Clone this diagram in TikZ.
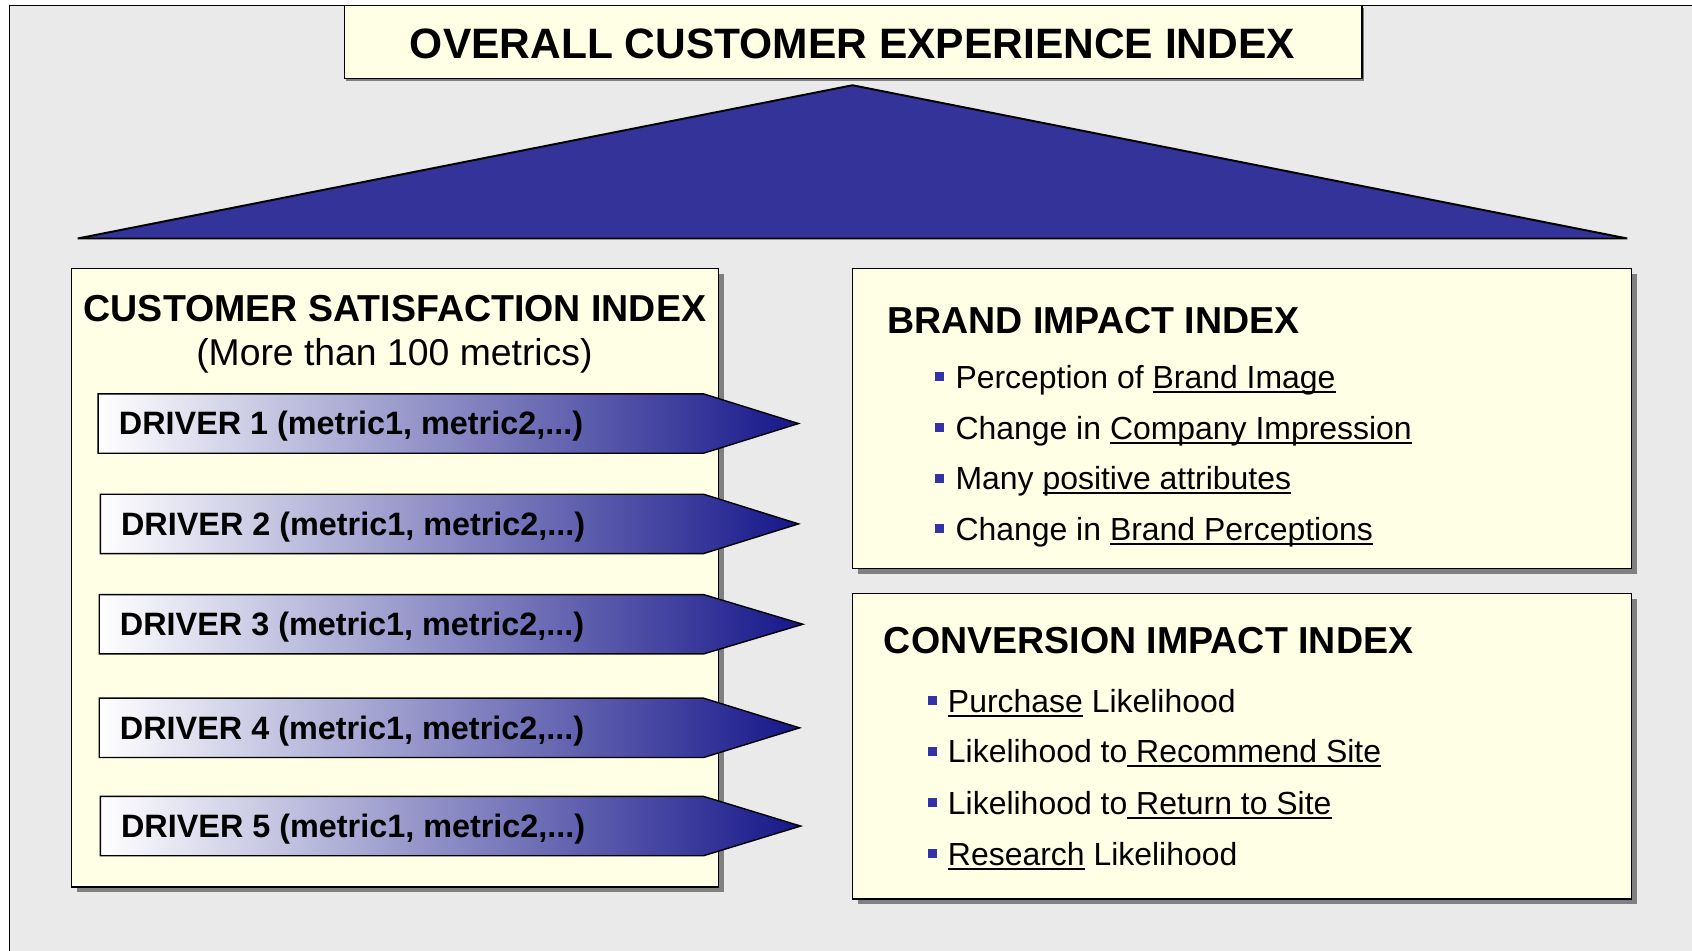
\documentclass[tikz,border=0pt]{standalone}
\usepackage{fontspec}
\setmainfont{Liberation Sans}
\usepackage{tikz}
\usetikzlibrary{calc}
\definecolor{bgray}{HTML}{EAEAEA}
\definecolor{panelyellow}{HTML}{FFFFE6}
\definecolor{roofblue}{HTML}{333399}
\definecolor{driverblue}{HTML}{16168A}
\definecolor{bulletblue}{HTML}{3333A8}
\definecolor{shadowgray}{HTML}{808080}
\newcommand\ulk[1]{\setbox0\hbox{#1}\rlap{\rule[-4pt]{\wd0}{1.8pt}}\box0\relax}
\newcommand\bul{\textcolor{bulletblue}{\rule[6.8pt]{8.2pt}{8.4pt}}\hspace{10.6pt}}
\tikzset{
  panel/.style={draw=black, fill=panelyellow, line width=1.3pt},
  driverarrow/.style={draw=black, line width=1.3pt, left color=white, right color=driverblue},
  headtext/.style={inner sep=0, font=\bfseries\fontsize{34.8}{40}\selectfont},
  drivertext/.style={inner sep=0, anchor=base west, font=\bfseries\fontsize{30}{36}\selectfont},
  itemtext/.style={inner sep=0, anchor=base west, font=\fontsize{29.6}{35}\selectfont}
}
\def\driver(#1:#2:#3:#4)#5{%
  \draw[driverarrow] (#1,#2) -- (652,#2) -- (#4,{(#2+#3)/2}) -- (652,#3) -- (#1,#3) -- cycle;
  \node[drivertext] (drv#5) at ({#1+19},{(#2+#3)/2+10.5}) {DRIVER #5 (metric1, metric2,...)};}

\begin{document}
\begin{tikzpicture}[x=1pt,y=-1pt]
		%%%%% START %%%%%
		\useasboundingbox (0,0) rectangle (1568,881);
		\fill[white] (0,0) rectangle (1568,881);
		\fill[bgray] (9,5) rectangle (1568,881);
		\draw[line width=1.3pt] (9,881) -- (9,5) -- (1568,5);
		
		% title and roof
		\fill[shadowgray] (321,7) rectangle (1264,75);
		\draw[panel] (319,5) rectangle (1262,73);
		\node[inner sep=0, font=\bfseries\fontsize{39.4}{46}\selectfont] (overall) at (790,40.5) {OVERALL CUSTOMER EXPERIENCE INDEX};
		\draw[fill=roofblue, line width=1.8pt, line join=miter] (790,79) -- (1508,221) -- (72,221) -- cycle;
		
		% satisfaction panel
		\fill[shadowgray] (71,254) rectangle (671,827);
		\draw[panel] (66,249) rectangle (666,822);
		\node[headtext, anchor=base] (csi) at (366,298) {CUSTOMER SATISFACTION INDEX};
		\node[headtext, anchor=base, font=\fontsize{34.6}{40}\selectfont] (csisub) at (365.5,338.5) {(More than 100 metrics)};
		
		\driver(91:365:420:740){1}
		\driver(93:458:513:740){2}
		\driver(92:551:606:744){3}
		\driver(92:647:702:741){4}
		\driver(93:738:793:742){5}
		
		% brand panel
		\fill[shadowgray] (795,254) rectangle (1517,532);
		\draw[panel] (790,249) rectangle (1512,527);
		\node[headtext, anchor=base west] (bii) at (822,309) {BRAND IMPACT INDEX};
		\node[itemtext] (bii1) at (866.5,360) {\bul Perception of \ulk{Brand Image}};
		\node[itemtext] (bii2) at (866.5,407) {\bul Change in \ulk{Company Impression}};
		\node[itemtext] (bii3) at (866.5,454) {\bul Many \ulk{positive attributes}};
		\node[itemtext] (bii4) at (866.5,501) {\bul Change in \ulk{Brand Perceptions}};
		
		% conversion panel
		\fill[shadowgray] (795,555) rectangle (1517,838);
		\draw[panel] (790,550) rectangle (1512,833);
		\node[headtext, anchor=base west] (cii) at (819,606) {CONVERSION IMPACT INDEX};
		\node[itemtext] (cii1) at (859.5,660) {\bul \ulk{Purchase} Likelihood};
		\node[itemtext] (cii2) at (859.5,707) {\bul Likelihood to\ulk{ Recommend Site}};
		\node[itemtext] (cii3) at (859.5,755) {\bul Likelihood to\ulk{ Return to Site}};
		\node[itemtext] (cii4) at (859.5,802) {\bul \ulk{Research} Likelihood};
		
		%%%%% END %%%%%
	\end{tikzpicture}
\end{document}
